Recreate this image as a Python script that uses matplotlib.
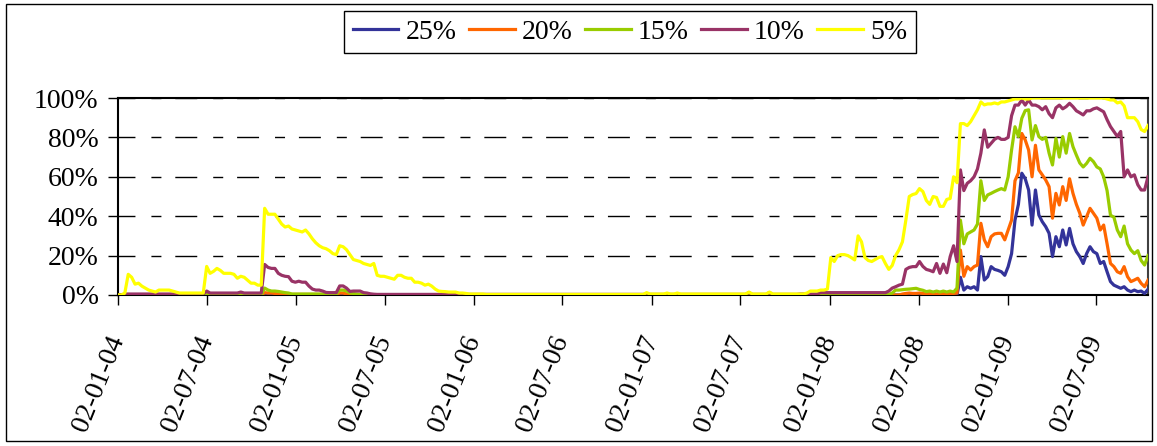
import numpy as np
import pandas as pd
import matplotlib.pyplot as plt
from matplotlib.patches import Rectangle

plt.rcParams['font.family'] = ['Liberation Serif', 'DejaVu Serif']

# weekly observations starting 02-01-2004 (values in %)
start_date = "2004-01-02"
series_names = ["25%", "20%", "15%", "10%", "5%"]
series_colors = ["#333399", "#FF6600", "#99CC00", "#993366", "#FFFF00"]

p25 = ([0] * 247 +
       [9, 2.5, 4.2, 3.4, 4.2, 2.5, 19.5, 7.6, 9.3, 14.4, 13, 12.5, 11.8, 10,
        14.4, 21, 38, 46, 61.8, 59, 53.3, 35.5, 53.3, 40.6, 37.2, 34.7, 31.3,
        19.5, 29.6, 24.5, 33, 25.4, 33.8, 26, 22, 19.5, 16, 21, 24.5, 22, 21,
        16, 17, 11.8, 6.8, 5, 4.2, 3.4, 4.2, 2.5, 1.7, 2.5, 1.7, 2, 0.8, 2.9])

p20 = ([0] * 43 +
       [1.2, 1, 1, 0.8, 0.5] + [0.3] * 17 + [1, 1, 0.5] +
       [0] * 162 +
       [0.5, 0.8, 1, 0.8, 0.8, 1, 0.8, 0.5, 0.8, 0.8, 0.5, 0.8, 0.8, 0.5, 0.8,
        0.8, 1] +
       [22.8, 9.5, 14.4, 12.7, 14.4, 15.2, 36.4, 28, 24.5, 29.6, 31, 31.3,
        31.3, 28, 33, 38, 58, 62, 82, 78.7, 73.6, 60, 76, 63.5, 61, 58.4, 55,
        39, 51.6, 45.7, 55, 48, 59, 51.6, 46, 41.5, 35.5, 39.7, 44, 41.5, 39,
        33, 35.5, 26, 16, 14.4, 11.8, 11, 14.4, 9.3, 6.8, 7.6, 8.5, 5.9, 4.2,
        7.5])

p15 = ([0] * 43 +
       [3.5, 2.5, 2, 2, 1.8, 1.5, 1.2, 1] + [0.5] * 14 +
       [2.5, 2.5, 2, 1, 0.8, 0.5, 0.3] +
       [0] * 154 +
       [0.3, 1, 2.5, 2.5, 2.7, 2.9, 3, 3.2, 3.4, 2.8, 2.4, 1.7, 2, 1.5, 2, 1.5,
        2, 1.5, 2, 1.5, 3.5] +
       [38, 26, 31, 32, 33, 36, 58, 48, 50.8, 51.6, 52.5, 53.3, 54, 53.3, 60,
        73.6, 85.4, 80.4, 89.7, 93.6, 94, 78.7, 86, 80.4, 79, 80, 72, 66, 79.5,
        70, 80.4, 72, 82, 75.3, 71, 67, 65, 66.8, 69.4, 67.7, 65, 64, 60, 53,
        40.5, 39.5, 33, 29.6, 35, 26, 22.8, 21, 22.5, 17.5, 15.2, 20])

p10 = ([0, 0] + [0.5] * 24 +
       [2] + [1] * 9 + [1.5] + [1] * 6 +
       [15.5, 14, 13.5, 13.5, 11, 10, 9.5, 9.3, 7, 6.5, 7, 6.5, 6.5, 4.5, 3,
        2.5, 2.5, 2, 1.3, 1.2, 1.2, 1.2, 4.6, 4.6, 3.5, 1.8, 2, 2, 2, 1.2, 1,
        0.6, 0.4] +
       [0.3] * 109 + [1.2] + [0.3] * 5 + [1.2] + [0.3] * 8 +
       [0.5] * 6 + [1.2] * 20 +
       [2, 3.5, 4.2, 5, 5.5, 13, 14, 14.4, 14.4, 17, 14.5, 13, 12.5, 11.8, 16,
        11, 15.7, 11.3, 19.5, 25, 17] +
       [63.5, 53, 56.7, 58, 60, 64, 72, 83.8, 75, 77, 79, 80, 79, 79, 80, 91,
        96.4, 96.4, 99, 96.4, 99, 96.4, 96.4, 95.6, 94, 95.6, 92, 90, 95, 96.4,
        94.5, 95.6, 97.3, 95.6, 93.5, 92.5, 91.4, 93.5, 93.5, 94.5, 95, 94, 93,
        89, 85.5, 83, 80.5, 83, 60, 63.5, 60, 61, 56, 53.3, 53.3, 60])

p5 = ([0, 0, 1, 10.5, 9, 5.5, 6, 4.5, 3.5, 2.5, 2, 1.5, 2.5, 2.5, 2.5, 2.5, 2,
       1.5, 1, 1, 1, 1, 1, 1, 1, 1] +
      [14.5, 11, 12, 13.5, 12.5, 11, 11, 11, 10.5, 8.5, 9.5, 9, 7.5, 6, 6, 5,
       5] +
      [44, 41, 41, 41, 38.5, 36, 34.5, 35, 33.5, 33, 32.5, 32, 33, 31, 28.5,
       26.5, 25, 24, 23.5, 22.5, 21, 20.5, 25, 24.5, 23, 20.5, 18, 17.5, 17,
       16, 15.5, 15, 16, 10, 9.5, 9.5, 9, 8.5, 8, 10, 10, 9, 8.5, 8.5, 6.5, 6.5,
       6, 5, 5.5, 4.5, 3, 2, 1.8, 1.7, 1.5, 1.5, 1.5, 1] +
      [1, 0.8, 0.5, 0.5, 0.5, 0.5, 0.5, 0.3, 0.3, 0.3] + [0.3] * 44 +
      [1.2] + [0.5] * 5 + [1, 0.5, 0.5, 1] + [0.5] * 20 + [1.5] + [0.5] * 5 +
      [1.5] + [0.5] * 10 + [1, 2, 2, 2, 2.5, 2.5, 3] +
      [19, 17, 20, 20.5, 20.5, 20, 19, 17.8, 30, 27, 19, 17.5, 17, 18, 19,
       19.5, 16, 13, 15, 20, 23, 27, 38, 50, 51, 51.5, 54, 52.5, 48, 46, 50,
       49.5, 45, 45, 48.5, 49, 60, 57] +
      [87, 87, 86, 88, 91, 94, 98, 96.5, 97, 97, 97.5, 97, 98, 98, 98.5, 99,
       99.5, 99.5, 100, 99.5, 99.5] + [100] * 22 +
      [99.5, 99, 99, 97.5, 98, 96, 90, 90, 90, 88, 84, 83, 86])

tick_dates = ["2004-01-02", "2004-07-02", "2005-01-02", "2005-07-02",
              "2006-01-02", "2006-07-02", "2007-01-02", "2007-07-02",
              "2008-01-02", "2008-07-02", "2009-01-02", "2009-07-02"]
y_ticks = [0, 20, 40, 60, 80, 100]
y_tick_labels = ["0%", "20%", "40%", "60%", "80%", "100%"]

W, H = 1157, 446
fig = plt.figure(figsize=(W / 100, H / 100), dpi=100)
ax = fig.add_axes([118 / W, 1 - 295 / H, (1148 - 118) / W, (295 - 98) / H])

all_series = [p25, p20, p15, p10, p5]
n = max(len(s) for s in all_series)
dates = pd.date_range(start_date, periods=n, freq="7D")
for vals, name, col in zip(all_series, series_names, series_colors):
    ax.plot(dates[:len(vals)], vals, color=col, lw=2.3, label=name,
            zorder=3, solid_joinstyle="round")

ax.set_xlim(dates[0], dates[-1])
ax.set_ylim(0, 100)
ax.set_yticks(y_ticks)
ax.set_yticklabels(y_tick_labels, fontsize=20)
ax.set_xticks(pd.to_datetime(tick_dates))
ax.set_xticklabels([pd.Timestamp(d).strftime("%d-%m-%y") for d in tick_dates],
                   fontsize=20, rotation=68, ha="right", va="center",
                   rotation_mode="anchor")
ax.tick_params(axis="y", direction="out", length=7, width=1, pad=7)
ax.tick_params(axis="x", direction="out", length=7, width=1, pad=23)

ax.grid(axis="y", color="black", lw=1, linestyle=(3.6, (15.8, 11.5, 7.2, 10)))
ax.set_axisbelow(True)
for s in ax.spines.values():
    s.set_linewidth(1.5)
    s.set_color("black")
ax.spines["right"].set_color("#404040")

fig.legend(loc="center", bbox_to_anchor=(630 / W, 1 - 32 / H), ncol=5,
           fontsize=20, frameon=True, fancybox=False, edgecolor="black",
           framealpha=1, handlelength=1.65, handletextpad=0.25,
           columnspacing=0.45, borderpad=0.3, borderaxespad=0)

fig.patches.append(Rectangle((6 / W, 5 / H), (1152 - 6) / W, (441 - 4) / H,
                             transform=fig.transFigure, fill=False,
                             edgecolor="black", lw=1))

fig.savefig("out.png", dpi=100)
